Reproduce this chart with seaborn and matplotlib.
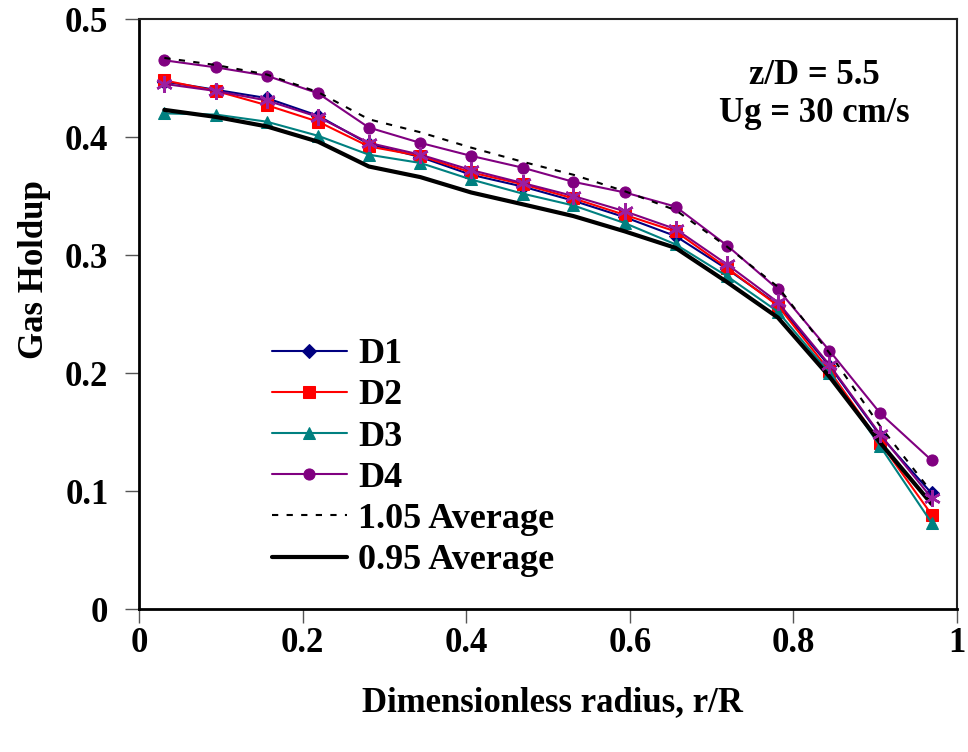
import numpy as np
import pandas as pd
import seaborn as sns
import matplotlib
matplotlib.use("Agg")
import matplotlib.pyplot as plt

# radial positions (16 measurement points)
r_R = [0.031, 0.094, 0.156, 0.219, 0.281, 0.344, 0.406, 0.469,
       0.531, 0.594, 0.656, 0.719, 0.781, 0.844, 0.906, 0.969]

D1 = [0.447, 0.440, 0.433, 0.418, 0.394, 0.383, 0.368, 0.358,
      0.346, 0.332, 0.316, 0.288, 0.258, 0.206, 0.147, 0.098]
D2 = [0.448, 0.439, 0.427, 0.413, 0.392, 0.384, 0.370, 0.360,
      0.348, 0.334, 0.320, 0.289, 0.257, 0.202, 0.141, 0.080]
D3 = [0.420, 0.419, 0.413, 0.401, 0.385, 0.378, 0.364, 0.352,
      0.342, 0.327, 0.309, 0.282, 0.252, 0.200, 0.138, 0.073]
D4 = [0.465, 0.459, 0.452, 0.437, 0.408, 0.395, 0.384, 0.374,
      0.362, 0.353, 0.341, 0.308, 0.271, 0.219, 0.166, 0.126]
avg = [0.445, 0.439, 0.431, 0.417, 0.395, 0.385, 0.372, 0.361,
       0.350, 0.337, 0.322, 0.292, 0.260, 0.207, 0.148, 0.094]
avg_hi = [0.467, 0.461, 0.453, 0.438, 0.415, 0.404, 0.391, 0.379,
          0.368, 0.354, 0.338, 0.307, 0.273, 0.217, 0.155, 0.099]
avg_lo = [0.423, 0.417, 0.409, 0.396, 0.375, 0.366, 0.353, 0.343,
          0.333, 0.320, 0.306, 0.277, 0.247, 0.197, 0.141, 0.089]

sns.set_style("white")
plt.rcParams['font.family'] = ['Liberation Serif', 'DejaVu Serif']
plt.rcParams['font.weight'] = 'bold'
plt.rcParams['text.color'] = 'black'
plt.rcParams['axes.labelcolor'] = 'black'
plt.rcParams['xtick.color'] = 'black'
plt.rcParams['ytick.color'] = 'black'

fig = plt.figure(figsize=(9.68, 7.52), dpi=100)
ax = fig.add_axes([139 / 968, (752 - 609) / 752, 818 / 968, 590 / 752])

fs = 25
sns.lineplot(x=r_R, y=D1, ax=ax, color='#000080', marker='D', markersize=7,
             markeredgecolor='#000080', lw=1.5, label='D1')
sns.lineplot(x=r_R, y=D2, ax=ax, color='#ff0000', marker='s', markersize=8,
             markeredgecolor='#ff0000', lw=1.5, label='D2')
sns.lineplot(x=r_R, y=D3, ax=ax, color='#008080', marker='^', markersize=9,
             markeredgecolor='#008080', lw=1.5, label='D3')
sns.lineplot(x=r_R, y=D4, ax=ax, color='#800080', marker='o', markersize=8,
             markeredgecolor='#800080', lw=1.5, label='D4')
sns.lineplot(x=r_R, y=avg_hi, ax=ax, color='black', lw=1.5, label='1.05 Average')
ax.lines[-1].set_dashes([3, 4])
sns.lineplot(x=r_R, y=avg_lo, ax=ax, color='black', lw=3, label='0.95 Average')
# unlabelled average series
sns.lineplot(x=r_R, y=avg, ax=ax, color='#800080', marker=(6, 2, 0), markersize=12,
             markeredgecolor='#9b1fa0', markeredgewidth=1.8, lw=1.5, legend=False)

ax.set_xlim(0, 1)
ax.set_ylim(0, 0.5)
ax.set_xticks([0, 0.2, 0.4, 0.6, 0.8, 1.0])
ax.set_xticklabels(['0', '0.2', '0.4', '0.6', '0.8', '1'])
ax.set_yticks([0, 0.1, 0.2, 0.3, 0.4, 0.5])
ax.set_yticklabels(['0', '0.1', '0.2', '0.3', '0.4', '0.5'])
ax.tick_params(direction='out', length=10, width=1, color='#555555',
               labelcolor='black', labelsize=fs, left=True, bottom=True)
ax.tick_params(axis='y', pad=12)
ax.tick_params(axis='x', pad=3)
for lab in ax.get_xticklabels() + ax.get_yticklabels():
    lab.set_fontweight('bold')
for s in ['left', 'bottom']:
    ax.spines[s].set_linewidth(2)
    ax.spines[s].set_color('black')
for s in ['right', 'top']:
    ax.spines[s].set_linewidth(1.5)
    ax.spines[s].set_color('#222222')

ax.set_xlabel('Dimensionless radius, r/R', fontsize=fs, fontweight='bold')
ax.set_ylabel('Gas Holdup', fontsize=fs, fontweight='bold')
ax.xaxis.set_label_coords(0.506, -0.13)
ax.yaxis.set_label_coords(-0.108, 0.575)

ax.text(0.826, 0.905, 'z/D = 5.5', transform=ax.transAxes, fontsize=fs,
        fontweight='bold', ha='center', va='center')
ax.text(0.826, 0.84, 'Ug = 30 cm/s', transform=ax.transAxes, fontsize=fs,
        fontweight='bold', ha='center', va='center')

leg = ax.legend(loc='upper left', bbox_to_anchor=(0.14, 0.49), frameon=False,
                fontsize=fs + 1, handlelength=2.1, labelspacing=0.22,
                handletextpad=0.3, borderpad=0)
for t in leg.get_texts():
    t.set_fontweight('bold')

fig.savefig('out.png', dpi=100)
